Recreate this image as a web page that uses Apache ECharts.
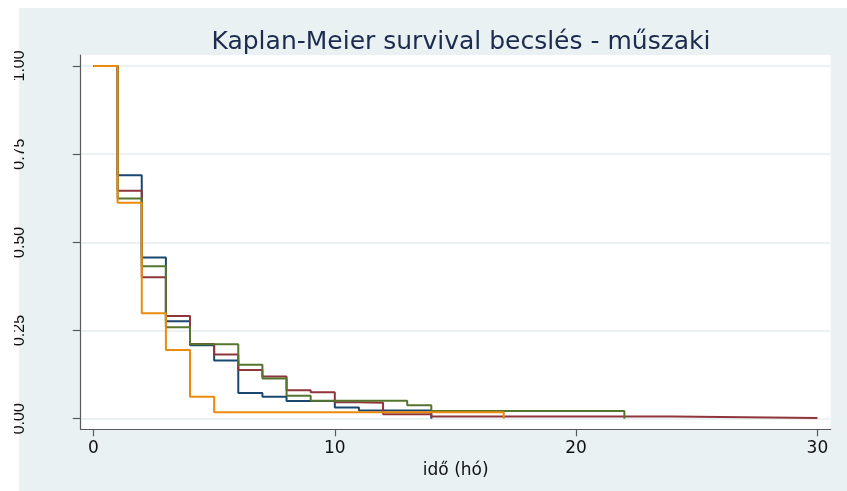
<!DOCTYPE html>
<html>
<head>
<meta charset="utf-8">
<script src="https://cdn.jsdelivr.net/npm/echarts@6/dist/echarts.min.js"></script>
<style>
  html, body { margin: 0; padding: 0; background: #ffffff; }
  #chart { width: 847px; height: 491px; }
</style>
</head>
<body>
<div id="chart"></div>
<script>
// ---- data ----
const titleText = 'Kaplan-Meier survival becslés - műszaki';
const xAxisTitle = 'idő (hó)';
const xTicks = [0, 10, 20, 30];
const yTicks = [0, 0.25, 0.5, 0.75, 1];

const blueTime  = [0, 1, 2, 3, 4, 5, 6, 7, 8, 10, 11, 14];
const blueSurv  = [1, 0.690, 0.457, 0.276, 0.208, 0.165, 0.073, 0.062, 0.050, 0.032, 0.023, 0];

const redTime   = [0, 1, 2, 3, 4, 5, 6, 7, 8, 9, 10, 11, 12, 14, 24, 30];
const redSurv   = [1, 0.646, 0.401, 0.291, 0.212, 0.182, 0.138, 0.120, 0.081, 0.075, 0.047, 0.045, 0.013, 0.006, 0.002, 0];

const greenTime = [0, 1, 2, 3, 4, 6, 7, 8, 9, 13, 14, 22];
const greenSurv = [1, 0.624, 0.432, 0.259, 0.211, 0.153, 0.114, 0.065, 0.051, 0.038, 0.022, 0];

const orangeTime = [0, 1, 2, 3, 4, 5, 17];
const orangeSurv = [1, 0.612, 0.299, 0.195, 0.062, 0.018, 0];

const seriesDefs = [
  { name: 'navy',   time: blueTime,   surv: blueSurv,   color: '#1a476f' },
  { name: 'maroon', time: redTime,    surv: redSurv,    color: '#90353b' },
  { name: 'green',  time: greenTime,  surv: greenSurv,  color: '#55752f' },
  { name: 'orange', time: orangeTime, surv: orangeSurv, color: '#ec8a0c' }
];

const chart = echarts.init(document.getElementById('chart'), null, { renderer: 'canvas' });

const option = {
  animation: false,
  backgroundColor: '#ffffff',
  textStyle: { fontFamily: 'DejaVu Sans' },
  graphic: [
    { type: 'rect', z: -10, left: 19, top: 8, shape: { width: 828, height: 483 },
      style: { fill: '#e9f1f3' }, silent: true },
    { type: 'rect', z: 100, left: 0, top: 0, shape: { width: 14, height: 491 },
      style: { fill: '#ffffff' }, silent: true }
  ],
  title: {
    text: titleText,
    left: 456, textAlign: 'center',
    top: 25,
    textStyle: { fontFamily: 'DejaVu Sans', fontSize: 25, fontWeight: 'normal', color: '#1c2b4e' }
  },
  grid: {
    show: true, backgroundColor: '#ffffff', borderWidth: 0,
    left: 80.7, right: 16.3, top: 55, bottom: 61.7, containLabel: false
  },
  xAxis: {
    type: 'value', min: -0.53, max: 30.55,
    name: xAxisTitle, nameLocation: 'middle', nameGap: 29,
    nameTextStyle: { fontFamily: 'DejaVu Sans', fontSize: 17, color: '#111' },
    axisLine: { show: true, onZero: false, lineStyle: { color: '#5a5a5a', width: 1.2 } },
    axisTick: { show: true, length: 7, customValues: xTicks, lineStyle: { color: '#5a5a5a', width: 1.2 } },
    axisLabel: { customValues: xTicks, margin: 11, fontFamily: 'DejaVu Sans', fontSize: 17, color: '#111' },
    splitLine: { show: false }
  },
  yAxis: {
    type: 'value', min: -0.030, max: 1.031,
    axisLine: { show: true, onZero: false, lineStyle: { color: '#5a5a5a', width: 1.2 } },
    axisTick: { show: true, length: 8, customValues: yTicks, lineStyle: { color: '#5a5a5a', width: 1.2 } },
    axisLabel: {
      customValues: yTicks, rotate: 90, margin: 53,
      fontFamily: 'Liberation Sans', fontSize: 16, color: '#111',
      formatter: v => v.toFixed(2)
    },
    splitLine: { show: true, lineStyle: { color: '#e6eef0', width: 1.5 } }
  },
  series: seriesDefs.map(s => ({
    name: s.name,
    type: 'line',
    step: 'end',
    showSymbol: false,
    symbol: 'none',
    lineStyle: { color: s.color, width: 2 },
    itemStyle: { color: s.color },
    data: s.time.map((t, i) => [t, s.surv[i]])
  }))
};

chart.setOption(option);
</script>
</body>
</html>
